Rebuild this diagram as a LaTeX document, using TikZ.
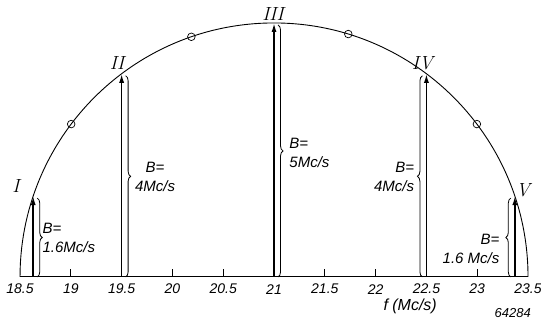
\documentclass[tikz,border=0pt]{standalone}
\usepackage{fontspec}
\setsansfont{Liberation Sans}
\usetikzlibrary{positioning, arrows.meta, decorations.pathreplacing}

\begin{document}
\begin{tikzpicture}[
    x=101.6pt, y=101.6pt,
    every node/.style={font=\fontsize{14}{19}\selectfont\sffamily\itshape},
    line/.style={->, line width=1.6pt, >={Latex[length=9pt,width=5pt]}},
    brc/.style={decorate, decoration={brace, amplitude=5pt}, line width=0.8pt},
    num/.style={font=\fontsize{19}{21}\selectfont\rmfamily\itshape, inner sep=0pt},
    lbl/.style={inner sep=1pt, font=\fontsize{15}{19}\selectfont\sffamily\itshape}
]
    \useasboundingbox (18.303,-0.433) rectangle (23.628,2.726);

    % axis and band edge
    \draw[line width=0.9pt] (18.5,0) -- (23.5,0);
    \draw[line width=0.9pt] (23.5,0) arc (0:180:2.5);
    \foreach \a in {143,109,73,37}
        \draw[line width=0.7pt] (21,0) ++(\a:2.5) circle (3.8pt);
    \foreach \t in {19,20,20.5,21.5,22,23}
        \draw[line width=0.8pt] (\t,0) -- (\t,0.08);
    \foreach \t in {18.5,19,19.5,20,20.5,21,21.5,22,22.5,23,23.5}
        \node[inner sep=0pt] (x\t) at (\t,-0.12) {\t};
    \node[font=\fontsize{16}{19}\selectfont\sffamily\itshape] (unit) at (22.34,-0.29) {f (Mc/s)};
    \node[font=\fontsize{13}{15}\selectfont\sffamily\itshape] (code) at (23.35,-0.36) {64284};

    % channels
    \coordinate (f1) at (18.63,0);  \coordinate (t1) at (18.63,0.796);
    \coordinate (f2) at (19.5,0);   \coordinate (t2) at (19.5,2.0);
    \coordinate (f3) at (21,0);     \coordinate (t3) at (21,2.5);
    \coordinate (f4) at (22.5,0);   \coordinate (t4) at (22.5,2.0);
    \coordinate (f5) at (23.37,0);  \coordinate (t5) at (23.37,0.796);

    \foreach \i in {1,...,5}
        \draw[line] (f\i) -- (t\i);

    \draw[brc] ([xshift=4pt,yshift=-2pt]t1) -- ([xshift=4pt]f1);
    \draw[brc] ([xshift=4pt,yshift=-2pt]t2) -- ([xshift=4pt]f2);
    \draw[brc] ([xshift=4pt,yshift=-2pt]t3) -- ([xshift=4pt]f3);
    \draw[brc] ([xshift=-4pt]f4) -- ([xshift=-4pt,yshift=-2pt]t4);
    \draw[brc] ([xshift=-4pt]f5) -- ([xshift=-4pt,yshift=-2pt]t5);

    \node[lbl, anchor=west, align=left] (b1) at (18.71,0.384) {B=\\1.6Mc/s};
    \node[lbl, anchor=west, align=center] (b2) at (19.62,0.984) {B=\\4Mc/s};
    \node[lbl, anchor=west, align=left] (b3) at (21.14,1.22) {B=\\5Mc/s};
    \node[lbl, anchor=east, align=right] (b4) at (22.39,0.984) {B=\\4Mc/s};
    \node[lbl, anchor=east, align=right] (b5) at (23.23,0.276) {B=\\1.6 Mc/s};

    \node[num] (n1) at (18.46,0.896) {I};
    \node[num] (n2) at (19.455,2.106) {II};
    \node[num] (n3) at (20.99,2.589) {III};
    \node[num] (n4) at (22.46,2.106) {IV};
    \node[num] (n5) at (23.45,0.85) {V};
\end{tikzpicture}
\end{document}
